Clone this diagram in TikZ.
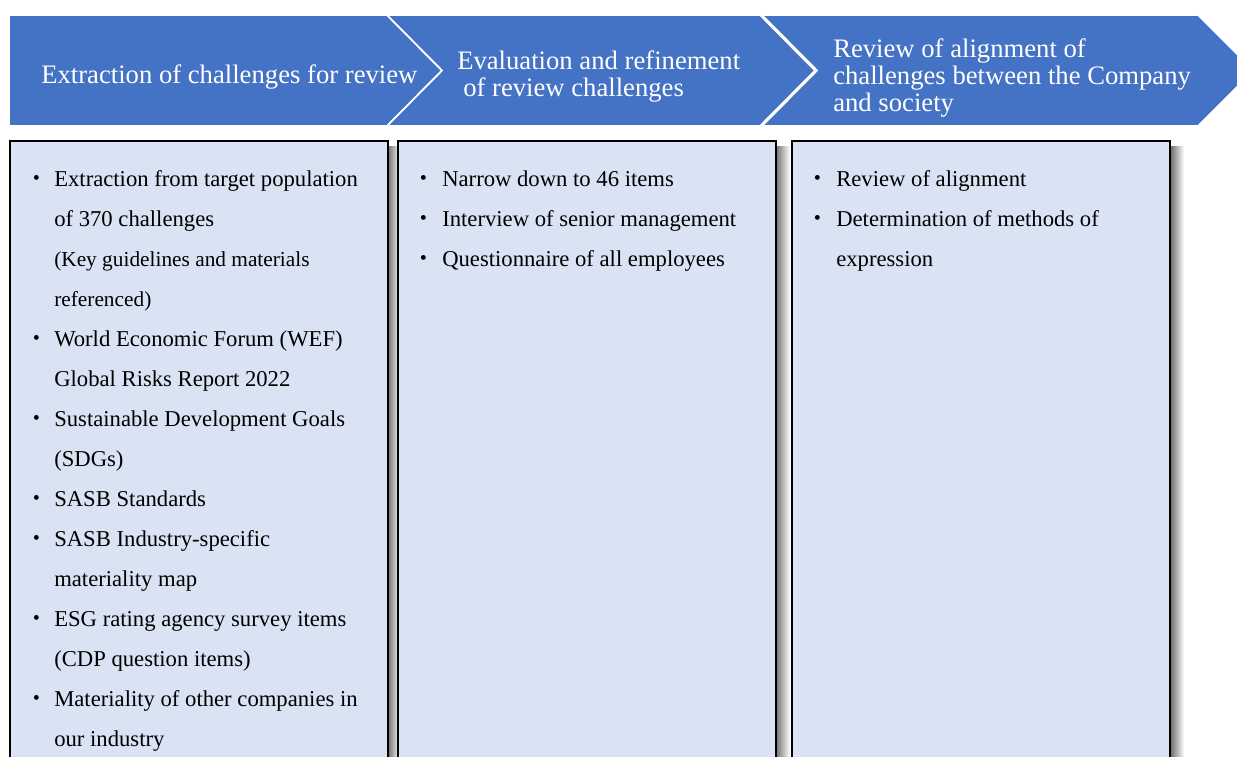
\documentclass[tikz,border=0pt]{standalone}
\usepackage{fontspec}
\setmainfont{Liberation Serif}
\newfontfamily\jpfont{Noto Sans CJK JP}
\definecolor{stageblue}{HTML}{4472C4}
\definecolor{panelblue}{HTML}{DAE3F3}
\begin{document}
\begin{tikzpicture}[x=0.75pt,y=-0.75pt,
  stage/.style={fill=stageblue,draw=white,line width=1.3pt,line join=miter},
  panel/.style={fill=panelblue,draw=black,line width=1.9pt},
  panelshade/.style={left color=black!55,right color=white,draw=none},
  head/.style={anchor=base west,inner sep=0pt,text=white,font=\fontsize{20}{22}\selectfont},
  item/.style={anchor=base west,inner sep=0pt,font=\fontsize{17}{20}\selectfont},
  note/.style={anchor=base west,inner sep=0pt,font=\fontsize{16}{19}\selectfont},
  dot/.style={anchor=base,inner sep=0pt,font=\jpfont\fontsize{17}{20}\selectfont}]
\useasboundingbox (0,0) rectangle (1237,756);
\clip (0,0) rectangle (1237,756);

% process chevrons
\draw[stage] (9,15) -- (387,15) -- (442,70.5) -- (387,126) -- (9,126) -- cycle;
\draw[stage] (387,15) -- (760,15) -- (815,70.5) -- (760,126) -- (387,126) -- (442,70.5) -- cycle;
\draw[stage] (762,15) -- (1198,15) -- (1253.5,70.5) -- (1198,126) -- (762,126) -- (817,70.5) -- cycle;

\node[head] (h1) at (41,84) {Extraction of challenges for review};
\node[head] (h2a) at (457,70) {Evaluation and refinement};
\node[head] (h2b) at (463,97) {of review challenges};
\node[head] (h3a) at (833,57.5) {Review of alignment of};
\node[head] (h3b) at (833,85) {challenges between the Company};
\node[head] (h3c) at (833,112) {and society};

% panel shadows
\shade[panelshade] (388,147) rectangle (400,770);
\shade[panelshade] (776,147) rectangle (790,770);
\shade[panelshade] (1171,147) rectangle (1184,770);

% panels
\draw[panel] (10,141) rectangle (388,775);
\draw[panel] (398,141) rectangle (776,775);
\draw[panel] (792,141) rectangle (1170,775);

% first panel items
\node[dot] (b11) at (37,186) {・};
\node[item] (t11) at (54,186) {Extraction from target population};
\node[item] (t12) at (54,226) {of 370 challenges};
\node[note] (t13) at (54,266) {(Key guidelines and materials};
\node[note] (t14) at (54,306) {referenced)};
\node[dot] (b12) at (37,346) {・};
\node[item] (t15) at (54,346) {World Economic Forum (WEF)};
\node[item] (t16) at (54,386) {Global Risks Report 2022};
\node[dot] (b13) at (37,426) {・};
\node[item] (t17) at (54,426) {Sustainable Development Goals};
\node[item] (t18) at (54,466) {(SDGs)};
\node[dot] (b14) at (37,506) {・};
\node[item] (t19) at (54,506) {SASB Standards};
\node[dot] (b15) at (37,546) {・};
\node[item] (t110) at (54,546) {SASB Industry-specific};
\node[item] (t111) at (54,586) {materiality map};
\node[dot] (b16) at (37,626) {・};
\node[item] (t112) at (54,626) {ESG rating agency survey items};
\node[item] (t113) at (54,666) {(CDP question items)};
\node[dot] (b17) at (37,706) {・};
\node[item] (t114) at (54,706) {Materiality of other companies in};
\node[item] (t115) at (54,746) {our industry};

% second panel items
\node[dot] (b21) at (424,186) {・};
\node[item] (t21) at (442,186) {Narrow down to 46 items};
\node[dot] (b22) at (424,226) {・};
\node[item] (t22) at (442,226) {Interview of senior management};
\node[dot] (b23) at (424,266) {・};
\node[item] (t23) at (442,266) {Questionnaire of all employees};

% third panel items
\node[dot] (b31) at (818,186) {・};
\node[item] (t31) at (836,186) {Review of alignment};
\node[dot] (b32) at (818,226) {・};
\node[item] (t32) at (836,226) {Determination of methods of};
\node[item] (t33) at (836,266) {expression};
\end{tikzpicture}
\end{document}
